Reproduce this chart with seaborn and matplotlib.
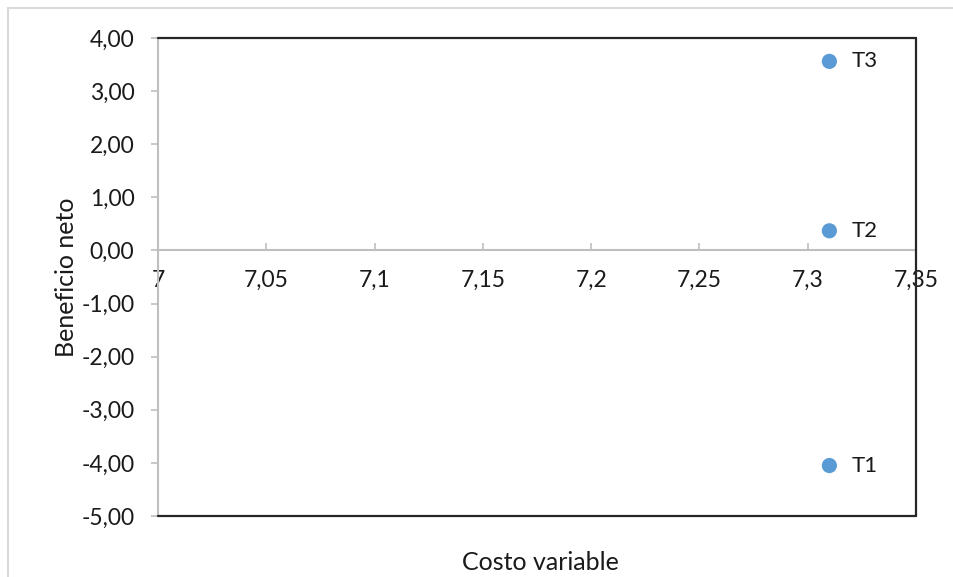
import matplotlib
matplotlib.use("Agg")
import matplotlib.pyplot as plt
from matplotlib.lines import Line2D
from matplotlib.ticker import FuncFormatter
import seaborn as sns
import pandas as pd

# Treatments: variable cost vs. net benefit
tratamientos = ["T1", "T2", "T3"]
costo_variable = [7.31, 7.31, 7.31]
beneficio_neto = [-4.05, 0.37, 3.56]

x_ticks = [7, 7.05, 7.1, 7.15, 7.2, 7.25, 7.3, 7.35]
x_tick_labels = ["7", "7,05", "7,1", "7,15", "7,2", "7,25", "7,3", "7,35"]
y_ticks = [4, 3, 2, 1, 0, -1, -2, -3, -4, -5]

df = pd.DataFrame({"Tratamiento": tratamientos,
                   "Costo variable": costo_variable,
                   "Beneficio neto": beneficio_neto})

sns.set_style("white")
plt.rcParams["font.family"] = ["Lato", "DejaVu Sans"]

W, H = 954, 577
fig = plt.figure(figsize=(W / 100, H / 100), dpi=100)
ax = fig.add_axes([158 / W, 1 - 516 / H, (916 - 158) / W, (516 - 38) / H])

blue = "#5B9BD5"
txt = "#1a1a1a"
sns.scatterplot(data=df, x="Costo variable", y="Beneficio neto", ax=ax,
                color=blue, s=120, edgecolor="none", zorder=5)

for _, r in df.iterrows():
    ax.annotate(r["Tratamiento"], (r["Costo variable"], r["Beneficio neto"]),
                xytext=(16, 0), textcoords="offset points",
                ha="left", va="center", fontsize=16, color=txt)

ax.set_xlim(7, 7.35)
ax.set_ylim(-5, 4)
ax.set_xticks(x_ticks)
ax.set_xticklabels(x_tick_labels)
ax.set_yticks(y_ticks)
ax.yaxis.set_major_formatter(FuncFormatter(lambda v, _: f"{v:.2f}".replace(".", ",")))

grey = "#BFBFBF"
for side in ["top", "right"]:
    ax.spines[side].set_visible(False)
ax.spines["left"].set_color(grey)
ax.spines["left"].set_linewidth(1.5)
ax.spines["bottom"].set_position(("data", 0))
ax.spines["bottom"].set_color(grey)
ax.spines["bottom"].set_linewidth(1.5)

# dark frame along top, right and bottom of the plotting area
for xs, ys in [([0, 1], [1, 1]), ([1, 1], [0, 1]), ([0, 1], [0, 0])]:
    ax.add_line(Line2D(xs, ys, transform=ax.transAxes, color="#262626",
                       lw=1.6, clip_on=False, zorder=6))

ax.tick_params(axis="y", direction="out", length=5, width=1.2, color=grey,
               labelsize=16.5, labelcolor=txt, pad=12, left=True)
ax.tick_params(axis="x", direction="in", length=5, width=1.2, color=grey,
               labelsize=16.5, labelcolor=txt, pad=14, bottom=True)

ax.set_xlabel("Costo variable", fontsize=18, color=txt)
ax.set_ylabel("Beneficio neto", fontsize=18, color=txt)
ax.xaxis.set_label_coords(0.505, -0.073)
ax.yaxis.set_label_coords(-0.106, 0.5)

# outer chart-area border
fig.add_artist(Line2D([8 / W, 1], [1 - 8 / H, 1 - 8 / H], transform=fig.transFigure,
                      color="#D9D9D9", lw=1.5))
fig.add_artist(Line2D([8 / W, 8 / W], [0, 1 - 8 / H], transform=fig.transFigure,
                      color="#D9D9D9", lw=1.5))

fig.savefig("out.png", dpi=100)
